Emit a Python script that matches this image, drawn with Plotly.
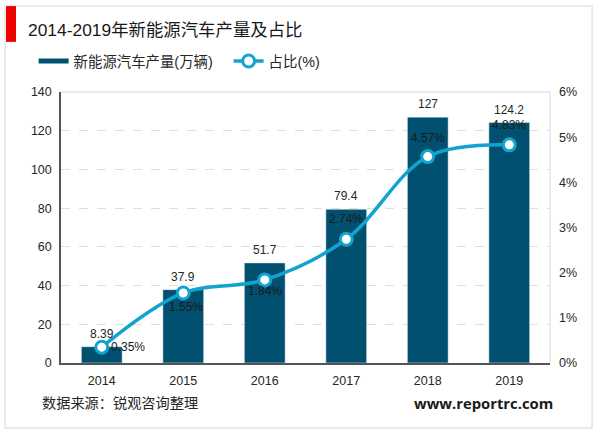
import plotly.graph_objects as go

years = ["2014", "2015", "2016", "2017", "2018", "2019"]
output = [8.39, 37.9, 51.7, 79.4, 127, 124.2]
share = [0.35, 1.55, 1.84, 2.74, 4.57, 4.83]
output_labels = ["8.39", "37.9", "51.7", "79.4", "127", "124.2"]
share_labels = ["0.35%", "1.55%", "1.84%", "2.74%", "4.57%", "4.83%"]
share_label_xshift = [26, 3, 0, 0, 0, 0]
share_label_yshift = [0, -14, -11, 20, 19, 20]

FONT = "Liberation Sans, Arial, Noto Sans CJK SC"
BAR = "#02506F"
LINE = "#12A3CE"
TXT = "#262626"

fig = go.Figure()
fig.add_trace(go.Bar(x=years, y=output, marker=dict(color=BAR), width=0.5, showlegend=False))
fig.add_trace(go.Scatter(x=[None], y=[None], mode="lines", name="新能源汽车产量(万辆)",
                         line=dict(color=BAR, width=5)))
fig.add_trace(go.Scatter(x=years, y=share, yaxis="y2", mode="lines+markers", name="占比(%)",
                         line=dict(color=LINE, width=3.5, shape="spline", smoothing=1.0),
                         marker=dict(size=12, color="white", line=dict(color=LINE, width=3)),
                         cliponaxis=False))

shapes = [
    dict(type="rect", xref="paper", yref="paper", x0=-0.1145, x1=1.086, y0=-0.24, y1=1.317,
         line=dict(color="#E4E4E4", width=1.5), fillcolor="rgba(0,0,0,0)", layer="below"),
    dict(type="rect", xref="paper", yref="paper", x0=-0.1125, x1=-0.092, y0=1.185, y1=1.317,
         line=dict(width=0), fillcolor="#F00000"),
    dict(type="path", xref="paper", yref="paper", path="M 0 1 L 1 1 L 1 0",
         line=dict(color="#E6E6E6", width=1.5), layer="below"),
]
annotations = [
    dict(text="2014-2019年新能源汽车产量及占比", xref="paper", yref="paper", x=-0.072, y=1.228,
         xanchor="left", yanchor="middle", showarrow=False, font=dict(size=17.4, color="#1A1A1A", family=FONT)),
    dict(text="数据来源：锐观咨询整理", xref="paper", yref="paper", x=-0.042, y=-0.147,
         xanchor="left", yanchor="middle", showarrow=False, font=dict(size=14.2, color=TXT, family=FONT)),
    dict(text="<b>www.reportrc.com</b>", xref="paper", yref="paper", x=1.011, y=-0.147,
         xanchor="right", yanchor="middle", showarrow=False,
         font=dict(size=14.8, color="#1A1A1A", family="Open Sans, Liberation Sans")),
]
for i, (val, lab) in enumerate(zip(output, output_labels)):
    annotations.append(dict(text=lab, x=i, y=val, xref="x", yref="y", yshift=13,
                            showarrow=False, font=dict(size=12, color=TXT, family=FONT)))
for i, (val, lab, dx, dy) in enumerate(zip(share, share_labels, share_label_xshift, share_label_yshift)):
    annotations.append(dict(text=lab, x=i, y=val, xref="x", yref="y2", xshift=dx, yshift=dy,
                            showarrow=False, font=dict(size=12, color="#1A1A1A", family=FONT)))

fig.update_layout(
    width=600, height=433, autosize=False,
    margin=dict(l=61, r=50, t=92, b=70),
    paper_bgcolor="white", plot_bgcolor="white",
    font=dict(family=FONT, size=12, color=TXT),
    bargap=0.5, shapes=shapes, annotations=annotations,
    legend=dict(orientation="h", x=-0.056, y=1.114, xanchor="left", yanchor="middle",
                font=dict(size=14.4, color=TXT, family=FONT), itemwidth=30, tracegroupgap=0,
                entrywidth=150, entrywidthmode="pixels"),
    xaxis=dict(type="category", categoryorder="array", categoryarray=years,
               showline=True, linecolor="#555555", linewidth=1.5, ticks="", showgrid=False,
               ticklabelstandoff=5, tickfont=dict(size=12.5, color=TXT)),
    yaxis=dict(range=[0, 140], tickvals=[0, 20, 40, 60, 80, 100, 120, 140], showgrid=True,
               gridcolor="#DEDEDE", griddash="dash", gridwidth=1, zeroline=False,
               showline=True, linecolor="#555555", linewidth=1.5, ticks="",
               ticklabelstandoff=5, tickfont=dict(size=12.5, color=TXT)),
    yaxis2=dict(range=[0, 6], overlaying="y", side="right", tickvals=[0, 1, 2, 3, 4, 5, 6],
                ticktext=["0%", "1%", "2%", "3%", "4%", "5%", "6%"], showgrid=False, zeroline=False,
                showline=False, ticks="", ticklabelstandoff=8, tickfont=dict(size=12.5, color=TXT)),
)
fig.write_html("out.html", post_script="document.body.style.margin='0';",
               config={"displayModeBar": False})
